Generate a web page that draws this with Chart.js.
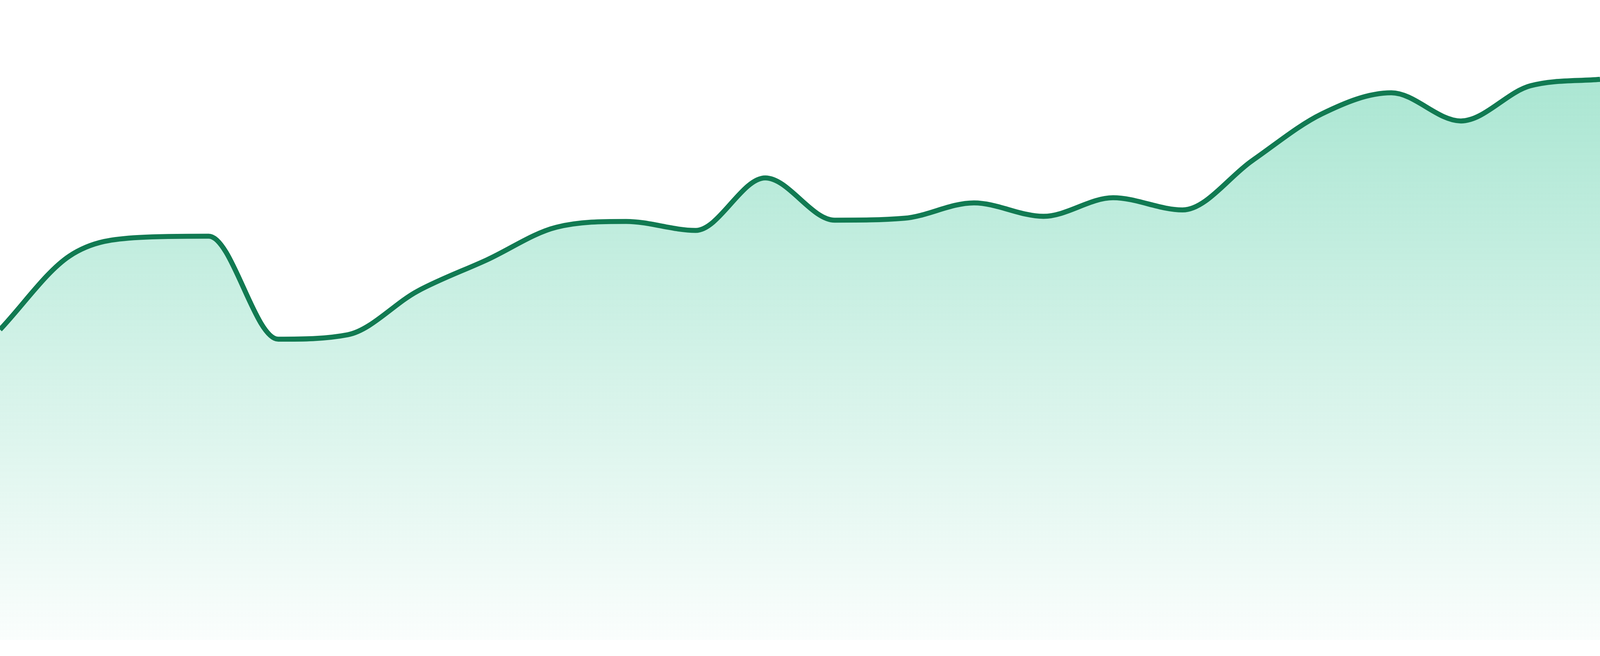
<!DOCTYPE html>
<html>
<head>
<meta charset="utf-8">
<script src="https://cdn.jsdelivr.net/npm/chart.js@4/dist/chart.umd.min.js"></script>
<style>
  html, body { margin: 0; padding: 0; background: #ffffff; overflow: hidden; }
  #wrap { width: 100vw; height: 100vh; position: relative; }
</style>
</head>
<body>
<div id="wrap"><canvas id="areaChart"></canvas></div>
<script>
// categories (no visible labels in the picture)
var labels = ['1', '2', '3', '4', '5', '6', '7', '8', '9', '10', '11', '12',
	'13', '14', '15', '16', '17', '18', '19', '20', '21', '22', '23', '24'];
// values (axis 0..100, hidden)
var values = [48.5, 60.0, 62.9, 63.1, 47.0, 47.7, 54.5, 59.4, 64.5, 65.4, 64.0, 72.2,
	65.6, 65.9, 68.3, 66.2, 69.1, 67.2, 74.9, 82.2, 85.5, 81.1, 86.6, 87.6];
var yMin = 0;
var yMax = 100;

var lineColor = '#117a52';
// the reference is 4800 px wide; keep stroke and padding in proportion
var k = window.innerWidth / 4800;

// vertical fade under the line
function areaFill(context) {
	var chart = context.chart;
	var area = chart.chartArea;
	if (!area) return 'rgba(16, 185, 129, 0.2)';
	var g = chart.ctx.createLinearGradient(0, area.top, 0, area.bottom);
	g.addColorStop(0, 'rgba(16, 185, 129, 0.40)');
	g.addColorStop(1, 'rgba(16, 185, 129, 0.02)');
	return g;
}

var ctx = document.getElementById('areaChart').getContext('2d');
var areaChart = new Chart(ctx, {
	type: 'line',
	data: {
		labels: labels,
		datasets: [{
			label: 'value',
			data: values,
			borderColor: lineColor,
			borderWidth: 15 * k,
			backgroundColor: areaFill,
			fill: 'start',
			pointRadius: 0,
			pointHoverRadius: 0,
			cubicInterpolationMode: 'monotone'
		}]
	},
	options: {
		responsive: true,
		maintainAspectRatio: false,
		animation: false,
		layout: { padding: { top: 0, left: 0, right: 0, bottom: 48 * k } },
		plugins: {
			legend: { display: false },
			tooltip: { enabled: false }
		},
		scales: {
			x: { display: false, offset: false },
			y: { display: false, min: yMin, max: yMax }
		}
	}
});
</script>
</body>
</html>
